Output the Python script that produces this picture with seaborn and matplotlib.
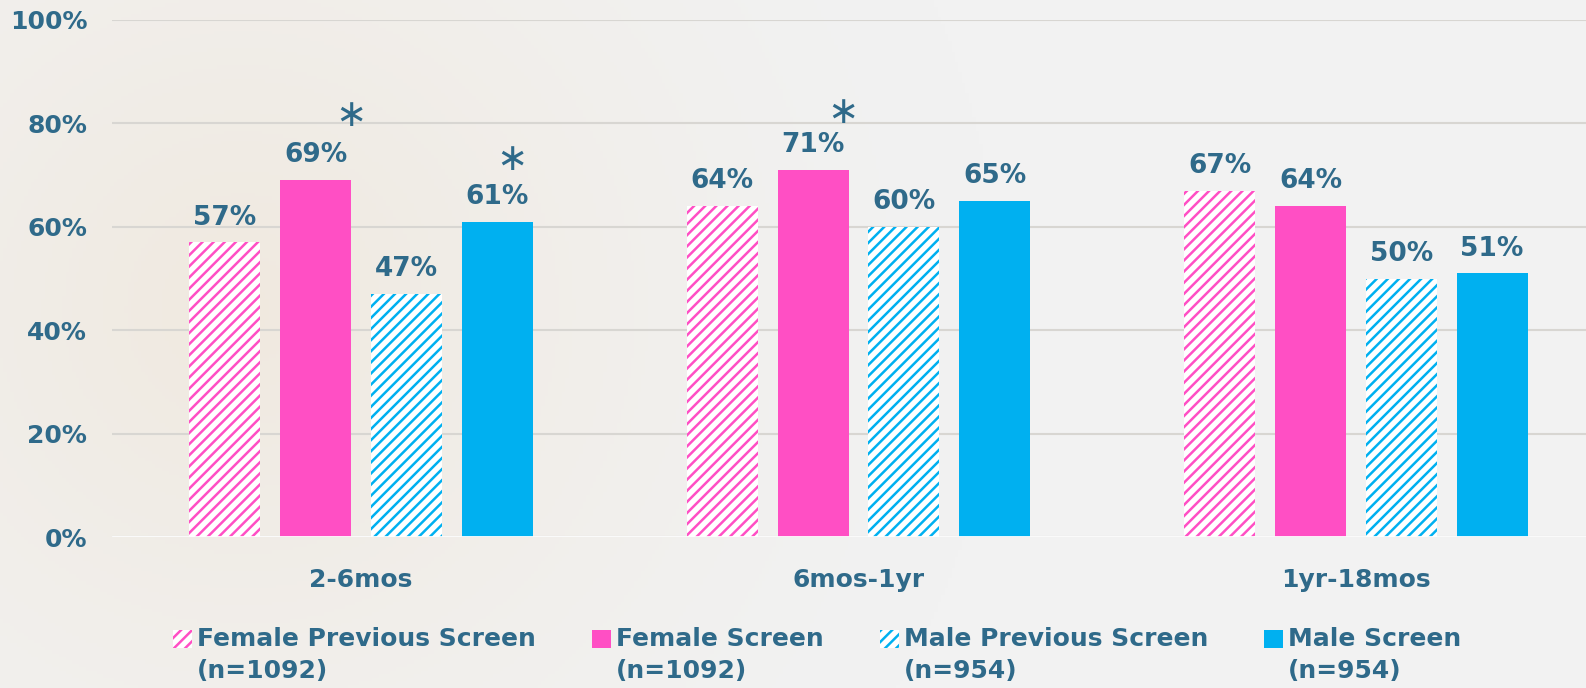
import pandas as pd
import numpy as np
import matplotlib
matplotlib.use('Agg')
import matplotlib.pyplot as plt
import matplotlib.patches as mpatches
from matplotlib.legend_handler import HandlerPatch
import seaborn as sns

# Data
groups = ['2-6mos', '6mos-1yr', '1yr-18mos']
series = ['Female Previous Screen', 'Female Screen', 'Male Previous Screen', 'Male Screen']
legend_labels = ['Female Previous Screen\n(n=1092)', 'Female Screen\n(n=1092)',
                 'Male Previous Screen\n(n=954)', 'Male Screen\n(n=954)']
female_prev = [57, 64, 67]
female_screen = [69, 71, 64]
male_prev = [47, 60, 50]
male_screen = [61, 65, 51]
# (series, group, x offset) marked with an asterisk
stars = [('Female Screen', '2-6mos', 0.07), ('Male Screen', '2-6mos', 0.03),
         ('Female Screen', '6mos-1yr', 0.06)]
star_y = [81.5, 73, 82]

pink = '#FF4FC4'
blue = '#00B0F0'
txt = '#2F6A8A'
bg = '#F2F2F2'
colors = [pink, pink, blue, blue]
hatched = [True, False, True, False]

rows = []
for s, vals in zip(series, [female_prev, female_screen, male_prev, male_screen]):
    for g, v in zip(groups, vals):
        rows.append({'group': g, 'series': s, 'value': v})
df = pd.DataFrame(rows)

sns.set_style('white')
plt.rcParams['font.family'] = ['DejaVu Sans']
plt.rcParams['hatch.linewidth'] = 1.8

fig = plt.figure(figsize=(15.86, 6.88), dpi=100, facecolor=bg)

# soft warm background glow on the left side
bgax = fig.add_axes([0, 0, 1, 1], zorder=-10)
yy, xx = np.mgrid[0:1:200j, 0:2.3:460j]
r = np.sqrt((xx - 0.35) ** 2 + (yy - 0.55) ** 2)
w = np.clip(1 - r / 1.1, 0, 1) ** 1.5
c_out = np.array([0xF2, 0xF2, 0xF2]) / 255
c_in = np.array([0xF0, 0xE9, 0xDF]) / 255
img = c_out[None, None, :] * (1 - w[..., None]) + c_in[None, None, :] * w[..., None]
bgax.imshow(img, aspect='auto', extent=[0, 1, 0, 1], origin='lower')
bgax.axis('off')

ax = fig.add_axes([0.0708, 0.219, 0.941, 0.752])
ax.patch.set_alpha(0)

sns.barplot(data=df, x='group', y='value', hue='series', hue_order=series,
            palette=colors, saturation=1, width=0.73, gap=0.22, legend=False, ax=ax)

# hatch the "previous screen" bars and write the value labels
for cont, h, c in zip(ax.containers, hatched, colors):
    for bar in cont:
        if h:
            bar.set_facecolor('white')
            bar.set_edgecolor(c)
            bar.set_hatch('///')
        bar.set_linewidth(0)
        ax.text(bar.get_x() + bar.get_width() / 2, bar.get_height() + 2.3,
                f'{bar.get_height():.0f}%', ha='center', va='bottom',
                fontsize=19, fontweight='bold', color=txt)

for (s, g, dx), y in zip(stars, star_y):
    bar = ax.containers[series.index(s)][groups.index(g)]
    ax.text(bar.get_x() + bar.get_width() / 2 + dx, y, '\u2217', ha='center', va='center',
            fontsize=27, color=txt)

ax.set_ylim(0, 100)
ax.set_xlim(-0.5, 2.5)
ax.set_yticks(np.arange(0, 101, 20))
ax.set_yticklabels([f'{t}%' for t in range(0, 101, 20)])
ax.yaxis.grid(True, color='#D8D6D2', linewidth=1.5)
ax.set_axisbelow(True)
ax.tick_params(axis='both', length=0, labelsize=18, labelcolor=txt)
ax.tick_params(axis='y', pad=18)
ax.tick_params(axis='x', pad=22)
for lab in ax.get_xticklabels() + ax.get_yticklabels():
    lab.set_fontweight('bold')
ax.set_xlabel('')
ax.set_ylabel('')
sns.despine(ax=ax, left=True, bottom=True, top=True, right=True)
ax.axhline(0, color='white', linewidth=2)


# legend swatch sits next to the first line of a two-line label
def top_patch(legend, orig_handle, xdescent, ydescent, width, height, fontsize):
    return mpatches.Rectangle((-xdescent, -ydescent + 12), width, height)


handles = []
for lab, h, c in zip(legend_labels, hatched, colors):
    if h:
        handles.append(mpatches.Patch(facecolor='white', edgecolor=c, hatch='///', linewidth=0, label=lab))
    else:
        handles.append(mpatches.Patch(facecolor=c, linewidth=0, label=lab))
leg = fig.legend(handles=handles, loc='upper left', bbox_to_anchor=(0.095, 0.122), ncol=4,
                 frameon=False, handlelength=0.75, handleheight=0.75, handletextpad=0.2,
                 columnspacing=2.25, prop={'weight': 'bold', 'size': 18},
                 handler_map={mpatches.Patch: HandlerPatch(patch_func=top_patch)})
for t in leg.get_texts():
    t.set_color(txt)
    t.set_linespacing(1.45)

fig.savefig('out.png', dpi=100, facecolor=bg)
